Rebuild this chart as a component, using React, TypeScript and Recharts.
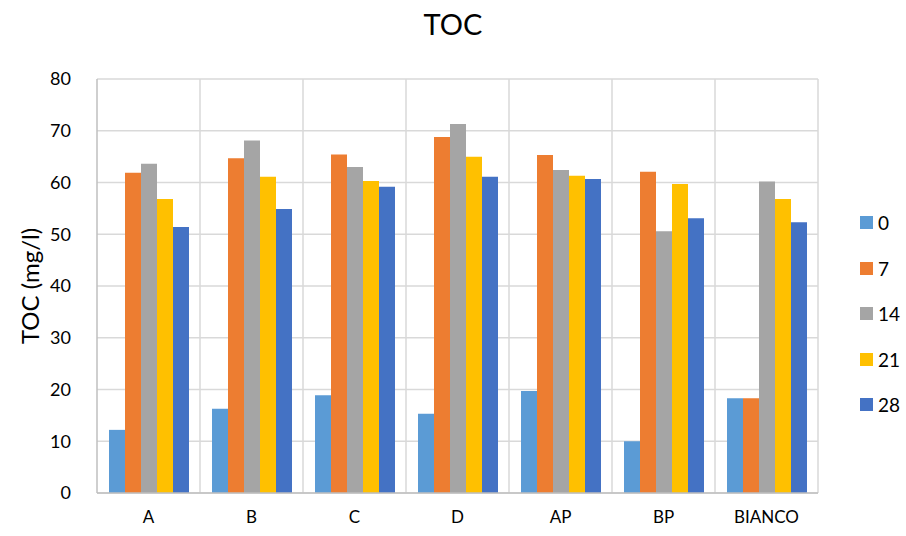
import React from "react";
import { BarChart, Bar, XAxis, YAxis, CartesianGrid, Label } from "recharts";

const categories = ["A", "B", "C", "D", "AP", "BP", "BIANCO"];
const day0 = [12.2, 16.3, 18.9, 15.3, 19.7, 10.0, 18.3];
const day7 = [61.9, 64.7, 65.4, 68.8, 65.3, 62.1, 18.3];
const day14 = [63.6, 68.1, 63.0, 71.3, 62.4, 50.6, 60.2];
const day21 = [56.8, 61.1, 60.3, 65.0, 61.3, 59.7, 56.8];
const day28 = [51.4, 54.9, 59.2, 61.1, 60.7, 53.1, 52.3];
const yTicks = [0, 10, 20, 30, 40, 50, 60, 70, 80];

const series = [
  { key: "0", values: day0, color: "#5B9BD5" },
  { key: "7", values: day7, color: "#ED7D31" },
  { key: "14", values: day14, color: "#A5A5A5" },
  { key: "21", values: day21, color: "#FFC000" },
  { key: "28", values: day28, color: "#4472C4" },
];

const data = categories.map((name, i) => {
  const row: Record<string, string | number> = { name };
  series.forEach((s) => (row[s.key] = s.values[i]));
  return row;
});

const FONT = "Lato, 'Liberation Sans', sans-serif";
const W = 906;
const H = 536;
const margin = { top: 79, right: 88, left: 0, bottom: 0 };

// vertical grid lines sit on the category boundaries
const boundaryLines = ({ offset }: any) => {
  const n = categories.length;
  const step = offset.width / n;
  const xs: number[] = [];
  for (let i = 1; i <= n; i++) xs.push(offset.left + i * step);
  return xs;
};

export default function App() {
  return (
    <div style={{ position: "absolute", left: 0, top: 0, width: W, height: H, background: "#fff", fontFamily: FONT }}>
      <div style={{ position: "absolute", top: 6, left: 0, width: W, textAlign: "center", fontSize: 29, color: "#000" }}>
        TOC
      </div>
      <BarChart width={W} height={H} data={data} margin={margin} barCategoryGap={12} barGap={0}>
        <CartesianGrid
          stroke="#D9D9D9"
          strokeWidth={1.5}
          verticalCoordinatesGenerator={boundaryLines}
        />
        <XAxis
          dataKey="name"
          height={43}
          stroke="#BFBFBF"
          strokeWidth={1.5}
          tickLine={false}
          tick={{ fill: "#000", fontSize: 17, fontFamily: FONT }}
          tickMargin={12}
        />
        <YAxis
          width={97}
          domain={[0, 80]}
          ticks={yTicks}
          stroke="#BFBFBF"
          strokeWidth={1.5}
          tickLine={false}
          tick={{ fill: "#000", fontSize: 18, fontFamily: FONT }}
          tickMargin={20}
        >
          <Label
            value="TOC (mg/l)"
            angle={-90}
            position="insideLeft"
            offset={30}
            style={{ fill: "#000", fontSize: 24, fontFamily: FONT, textAnchor: "middle" }}
          />
        </YAxis>
        {series.map((s) => (
          <Bar key={s.key} dataKey={s.key} fill={s.color} isAnimationActive={false} />
        ))}
      </BarChart>
      <div style={{ position: "absolute", left: 860, top: 200 }}>
        {series.map((s) => (
          <div key={s.key} style={{ display: "flex", alignItems: "center", height: 45.5 }}>
            <span style={{ width: 13, height: 13, background: s.color, display: "inline-block", marginRight: 5 }} />
            <span style={{ fontSize: 19, color: "#000" }}>{s.key}</span>
          </div>
        ))}
      </div>
    </div>
  );
}
